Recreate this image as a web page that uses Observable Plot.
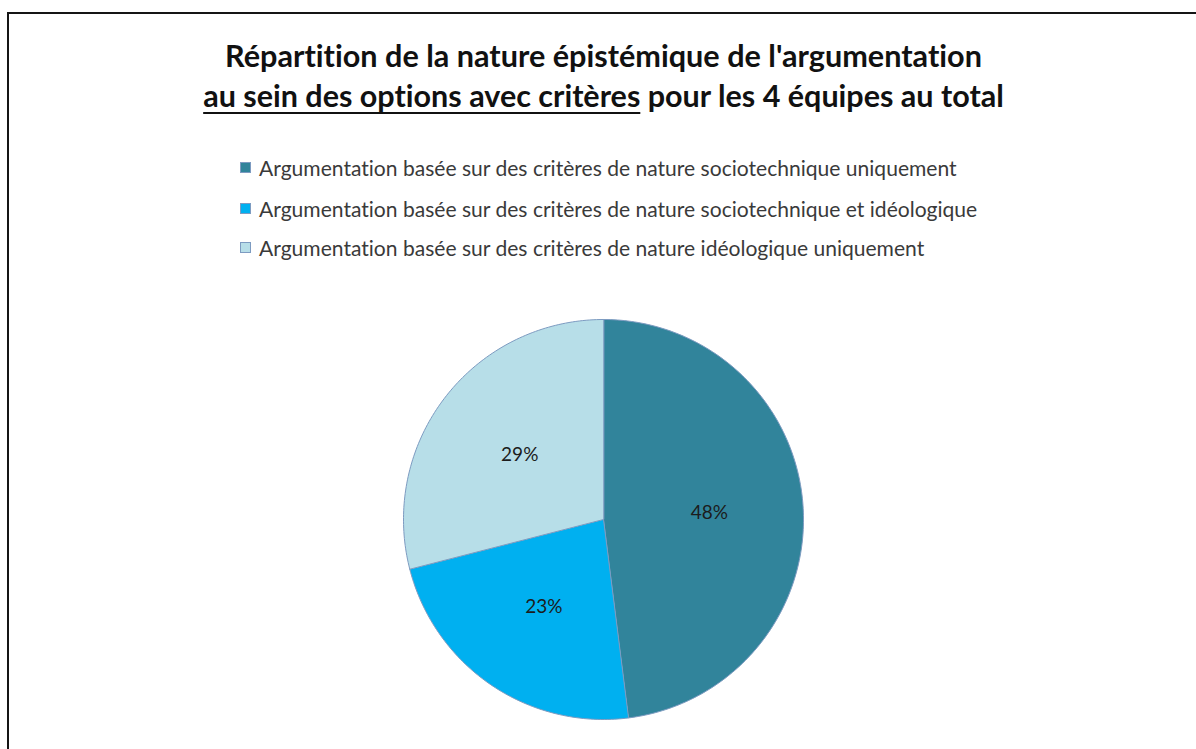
<!DOCTYPE html>
<html>
<head>
<meta charset="utf-8">
<script src="https://cdn.jsdelivr.net/npm/d3@7"></script>
<script src="https://cdn.jsdelivr.net/npm/@observablehq/plot@0.6"></script>
<style>
  html, body { margin: 0; padding: 0; background: #fff; }
  #root { position: relative; width: 1196px; height: 749px; overflow: hidden; background: #fff; font-family: Lato, "Open Sans", sans-serif; font-variant-ligatures: none; }
  #frame { position: absolute; left: 7px; top: 12px; width: 1400px; height: 1000px; border: 2px solid #151515; box-sizing: border-box; }
  .tline { position: absolute; left: 0; width: 1207px; text-align: center; white-space: nowrap; font-weight: 700; color: #111; line-height: 1; }
  .tline span.inner { display: inline-block; }
  .u { text-decoration: underline; text-decoration-thickness: 1.6px; text-underline-offset: 5px; }
  #legend { position: absolute; left: 240px; top: 0; }
  .lrow { position: absolute; left: 0; white-space: nowrap; color: #3a3a3a; line-height: 1; display: flex; align-items: center; }
  .sw { width: 9px; height: 9px; border: 1px solid #7d9bc1; box-sizing: content-box; margin-right: 8px; flex: none; }
  #pie { position: absolute; }
  #pie text { font-variant-ligatures: none; }
</style>
</head>
<body>
<div id="root">
  <div id="frame"></div>
  <div class="tline" id="t1"><span class="inner">Répartition de la nature épistémique de l'argumentation</span></div>
  <div class="tline" id="t2"><span class="inner"><span class="u">au sein des options avec critères</span> pour les 4 équipes au total</span></div>
  <div id="legend"></div>
  <div id="pie"></div>
</div>
<script>
// ---- data ----
const categories = [
  "Argumentation basée sur des critères de nature sociotechnique uniquement",
  "Argumentation basée sur des critères de nature sociotechnique et idéologique",
  "Argumentation basée sur des critères de nature idéologique uniquement"
];
const values = [48, 23, 29];
const colors = ["#31849B", "#00B0F0", "#B7DEE8"];
const valueLabels = ["48%", "23%", "29%"];

// ---- title fitting ----
function fitWidth(el, target, startSize) {
  el.style.fontSize = startSize + "px";
  const w = el.getBoundingClientRect().width;
  const fs = startSize * target / w;
  el.style.fontSize = fs + "px";
  return fs;
}
const t1 = document.getElementById("t1");
const t2 = document.getElementById("t2");
fitWidth(t1.querySelector(".inner"), 757, 24);
fitWidth(t2.querySelector(".inner"), 801, 24);
t1.style.top = "41px";
t2.style.top = "81px";

// ---- legend ----
const legend = document.getElementById("legend");
const rowCenters = [168, 209, 248];
let legendFs = null;
categories.forEach((c, i) => {
  const row = document.createElement("div");
  row.className = "lrow";
  const sw = document.createElement("div");
  sw.className = "sw";
  sw.style.background = colors[i];
  const tx = document.createElement("span");
  tx.textContent = c;
  row.appendChild(sw);
  row.appendChild(tx);
  legend.appendChild(row);
  if (legendFs === null) legendFs = fitWidth(tx, 698, 17);
  tx.style.fontSize = legendFs + "px";
  const h = row.getBoundingClientRect().height;
  row.style.top = (rowCenters[i] - h / 2) + "px";
});

// ---- pie geometry from values ----
const total = d3.sum(values);
const R = 1;
const pts = [];
const labelPts = [];
let acc = 0;
values.forEach((v, i) => {
  const a0 = acc / total * 2 * Math.PI;
  const a1 = (acc + v) / total * 2 * Math.PI;
  acc += v;
  pts.push({cat: categories[i], x: 0, y: 0});
  const n = Math.max(2, Math.ceil((a1 - a0) / (Math.PI / 180)));
  for (let k = 0; k <= n; k++) {
    const a = a0 + (a1 - a0) * k / n;
    pts.push({cat: categories[i], x: R * Math.sin(a), y: R * Math.cos(a)});
  }
  const am = (a0 + a1) / 2;
  labelPts.push({text: valueLabels[i], x: 0.53 * Math.sin(am), y: 0.53 * Math.cos(am)});
});

const size = 402;
const chart = Plot.plot({
  width: size,
  height: size,
  margin: 1,
  x: {domain: [-1, 1], axis: null},
  y: {domain: [-1, 1], axis: null},
  color: {domain: categories, range: colors},
  style: {background: "transparent", overflow: "visible"},
  marks: [
    Plot.line(pts, {x: "x", y: "y", z: "cat", fill: "cat", stroke: "#7d9bc1", strokeWidth: 1, curve: "linear-closed"}),
    Plot.text(labelPts, {x: "x", y: "y", text: "text", fontSize: 19, fill: "#1c1c1c", fontFamily: "Lato, sans-serif"})
  ]
});
const pie = document.getElementById("pie");
pie.style.left = (603 - size / 2) + "px";
pie.style.top = (519 - size / 2) + "px";
pie.appendChild(chart);
</script>
</body>
</html>
